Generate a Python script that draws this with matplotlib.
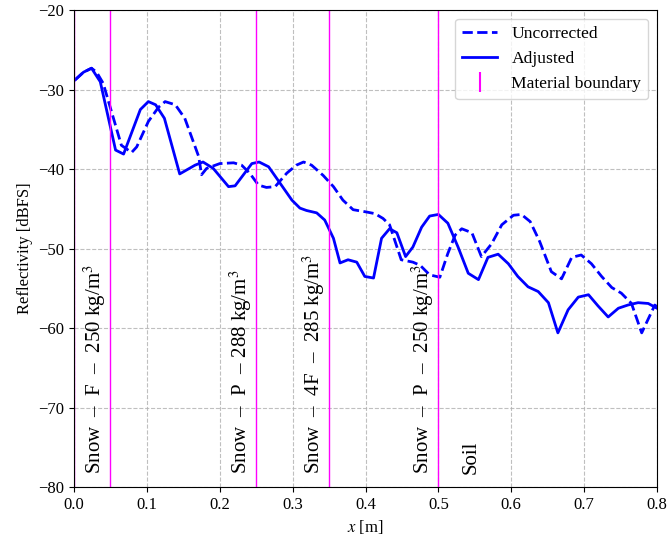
import numpy as np
import matplotlib
matplotlib.use("Agg")
import matplotlib.pyplot as plt

# -----------------------------
# Data
# -----------------------------
x_uncorr = [0.001, 0.013, 0.024, 0.031, 0.040, 0.065, 0.079, 0.086, 0.102, 0.116,
            0.125, 0.139, 0.152, 0.171, 0.175, 0.182, 0.200, 0.219, 0.230, 0.241,
            0.253, 0.264, 0.276, 0.292, 0.305, 0.315, 0.326, 0.342, 0.356, 0.369,
            0.383, 0.402, 0.413, 0.424, 0.433, 0.449, 0.465, 0.475, 0.488, 0.502,
            0.513, 0.523, 0.532, 0.546, 0.559, 0.573, 0.587, 0.603, 0.614, 0.626,
            0.639, 0.655, 0.669, 0.683, 0.696, 0.710, 0.724, 0.738, 0.751, 0.765,
            0.779, 0.797, 0.800]
y_uncorr = [-28.8, -27.8, -27.3, -27.8, -29.2, -37.0, -37.9, -37.2, -34.0, -32.2,
            -31.5, -31.9, -33.6, -38.4, -40.7, -39.9, -39.3, -39.2, -39.5, -40.5,
            -42.0, -42.3, -42.2, -40.5, -39.5, -39.1, -39.5, -40.8, -42.2, -43.9,
            -45.1, -45.4, -45.6, -46.2, -47.0, -51.4, -51.7, -52.1, -53.3, -53.6,
            -50.6, -48.3, -47.5, -48.0, -51.0, -49.4, -47.0, -45.8, -45.7, -46.6,
            -49.1, -52.9, -53.8, -51.1, -50.8, -51.9, -53.5, -54.9, -55.6, -56.9,
            -60.6, -57.1, -57.3]

x_adj = [0.001, 0.013, 0.024, 0.036, 0.057, 0.068, 0.091, 0.102, 0.112, 0.124,
         0.145, 0.166, 0.177, 0.191, 0.212, 0.221, 0.244, 0.254, 0.267, 0.283,
         0.299, 0.310, 0.319, 0.333, 0.344, 0.356, 0.365, 0.376, 0.388, 0.399,
         0.411, 0.422, 0.433, 0.443, 0.455, 0.465, 0.477, 0.488, 0.500, 0.513,
         0.527, 0.541, 0.555, 0.568, 0.582, 0.596, 0.609, 0.623, 0.637, 0.651,
         0.664, 0.678, 0.692, 0.706, 0.719, 0.733, 0.747, 0.760, 0.774, 0.788,
         0.800]
y_adj = [-28.8, -27.8, -27.3, -29.0, -37.6, -38.1, -32.5, -31.5, -31.9, -33.6,
         -40.6, -39.5, -39.1, -39.9, -42.2, -42.1, -39.3, -39.1, -39.7, -41.8,
         -43.9, -44.9, -45.2, -45.5, -46.4, -48.7, -51.8, -51.4, -51.7, -53.5,
         -53.7, -48.7, -47.5, -48.0, -51.0, -49.8, -47.3, -45.9, -45.7, -46.8,
         -49.8, -53.1, -53.9, -51.1, -50.7, -51.9, -53.5, -54.8, -55.4, -56.8,
         -60.6, -57.7, -56.1, -55.8, -57.2, -58.6, -57.5, -57.1, -56.8, -56.9,
         -57.5]

boundaries = [0.0, 0.05, 0.25, 0.35, 0.5]
layer_labels = ["Snow  \u2013  F  \u2013  250 kg/m$^3$",
                "Snow  \u2013  P  \u2013 288 kg/m$^3$",
                "Snow  \u2013  4F  \u2013  285 kg/m$^3$",
                "Snow  \u2013  P  \u2013  250 kg/m$^3$",
                "Soil"]
label_x = [0.029, 0.229, 0.329, 0.479, 0.545]

# -----------------------------
# Plot
# -----------------------------
plt.rcParams["font.family"] = "serif"
plt.rcParams["font.serif"] = ["Liberation Serif", "DejaVu Serif"]
plt.rcParams["mathtext.fontset"] = "stix"
plt.rcParams["font.size"] = 12

fig, ax = plt.subplots(figsize=(6.67, 5.37), dpi=100)
fig.subplots_adjust(left=0.111, right=0.985, top=0.981, bottom=0.093)

ax.plot(x_uncorr, y_uncorr, color="blue", linestyle="--", linewidth=2, label="Uncorrected")
ax.plot(x_adj, y_adj, color="blue", linestyle="-", linewidth=2, label="Adjusted")

for i, b in enumerate(boundaries):
    ax.axvline(b, color="magenta", linewidth=1,
               label="Material boundary" if i == 0 else None)

for lx, txt in zip(label_x, layer_labels):
    ax.text(lx, -78.3, txt, rotation=90, ha="center", va="bottom", fontsize=15)

# legend entry for boundary as a vertical tick marker
handles, labels = ax.get_legend_handles_labels()
marker_handle = plt.Line2D([], [], color="magenta", marker="|", linestyle="none",
                           markersize=14, markeredgewidth=1.5)
handles[2] = marker_handle
ax.legend(handles, labels, loc="upper right", fontsize=12.6)

ax.set_xlim(0, 0.8)
ax.set_ylim(-80, -20)
ax.set_xticks(np.arange(0, 0.81, 0.1))
ax.set_yticks(np.arange(-80, -19, 10))
ax.grid(True, linestyle="--", alpha=0.8)
ax.set_xlabel("$x$ [m]")
ax.set_ylabel("Reflectivity [dBFS]")

fig.savefig("out.png")
